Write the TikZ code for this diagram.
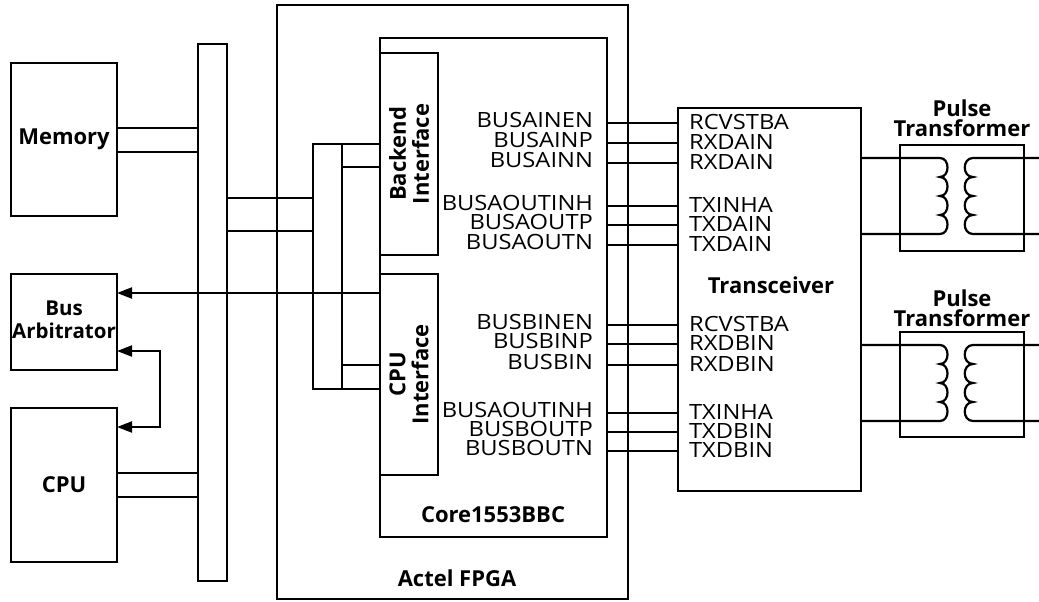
\documentclass[tikz,border=0pt]{standalone}
\usepackage{fontspec}
\setmainfont{Open Sans}
\newfontfamily\sigfont[FakeStretch=1.13]{Open Sans}
\usetikzlibrary{arrows.meta}
\begin{document}
\begin{tikzpicture}[x=1pt,y=-1pt,
  line width=2.2pt,
  box/.style={draw, line width=2.2pt, inner sep=0pt, outer sep=0pt, anchor=north west},
  ttl/.style={font=\fontsize{22}{23}\selectfont\bfseries, align=center, inner sep=0pt},
  ttlp/.style={font=\fontsize{22}{20}\selectfont\bfseries, align=center, inner sep=0pt},
  sig/.style={font=\fontsize{21}{21}\selectfont\sigfont, inner sep=0pt},
  wire/.style={line width=2.2pt},
  tipa/.tip={Triangle[length=15pt,width=11pt]},
  arr/.style={-tipa, line width=2.2pt},
  darr/.style={tipa-tipa, line width=2.2pt},
]
\useasboundingbox (0,0) rectangle (1039,602);

% boxes
\node[box, minimum width=106pt, minimum height=153pt] (mem) at (11,63) {};
\node[box, minimum width=106pt, minimum height=96pt] (arb) at (11,274) {};
\node[box, minimum width=106pt, minimum height=154pt] (cpu) at (11,408) {};
\node[box, minimum width=29pt, minimum height=537pt] (bus) at (198,44) {};
\node[box, minimum width=351pt, minimum height=594pt] (fpga) at (277,5) {};
\node[box, minimum width=227pt, minimum height=499pt] (core) at (380,38) {};
\node[box, minimum width=58pt, minimum height=202pt] (bif) at (380,53) {};
\node[box, minimum width=58pt, minimum height=201pt] (cif) at (380,274) {};
\node[box, minimum width=183pt, minimum height=383pt] (trx) at (678,108) {};
\node[box, minimum width=124pt, minimum height=106pt] (pt1) at (900,145) {};
\node[box, minimum width=124pt, minimum height=105pt] (pt2) at (900,332) {};

% titles
\node[ttl] (memt) at (mem) {Memory};
\node[ttl, font=\fontsize{20.5}{23}\selectfont\bfseries] (arbt) at (64,320) {Bus\\Arbitrator};
\node[ttl] (cput) at (cpu) {CPU};
\node[ttl, rotate=90] (bift) at (bif) {Backend\\Interface};
\node[ttl, rotate=90] (cift) at (cif) {CPU\\Interface};
\node[ttl] (coret) at (493,515) {Core1553BBC};
\node[ttl] (fpgat) at (457,578) {Actel FPGA};
\node[ttl] (trxt) at (771,285) {Transceiver};
\node[ttlp] (pt1t) at (962,118) {Pulse\\Transformer};
\node[ttlp] (pt2t) at (962,308) {Pulse\\Transformer};

% system bus connections
\draw[wire] (mem.east |- 0,128) -- (bus.west |- 0,128);
\draw[wire] (mem.east |- 0,152) -- (bus.west |- 0,152);
\draw[wire] (cpu.east |- 0,473) -- (bus.west |- 0,473);
\draw[wire] (cpu.east |- 0,497) -- (bus.west |- 0,497);

\coordinate (va) at (313,144);
\coordinate (vb) at (342,144);
\coordinate (vend) at (313,389);
\draw[wire] (bus.east |- 0,198) -- (va |- 0,198);
\draw[wire] (bus.east |- 0,231) -- (va |- 0,231);
\draw[wire] (bif.west |- va) -- (va) -- (vend) -- (cif.west |- vend);
\draw[wire] (vb) -- (vb |- vend);
\draw[wire] (vb |- 0,167) -- (bif.west |- 0,167);
\draw[wire] (vb |- 0,365) -- (cif.west |- 0,365);

% arrows
\draw[arr] (cif.west |- 0,293) -- (arb.east |- 0,293);
\coordinate (dc) at (160,351);
\draw[darr] (arb.east |- dc) -- (dc) -- (dc |- 0,427) -- (cpu.east |- 0,427);

% signals
\foreach \y/\l/\r/\n in {123/BUSAINEN/RCVSTBA/a1, 143/BUSAINP/RXDAIN/a2, 163/BUSAINN/RXDAIN/a3,
  206/BUSAOUTINH/TXINHA/a4, 225/BUSAOUTP/TXDAIN/a5, 245/BUSAOUTN/TXDAIN/a6,
  325/BUSBINEN/RCVSTBA/b1, 344/BUSBINP/RXDBIN/b2, 365/BUSBIN/RXDBIN/b3,
  413/BUSAOUTINH/TXINHA/b4, 432/BUSBOUTP/TXDBIN/b5, 451/BUSBOUTN/TXDBIN/b6}{
  \draw[wire] (core.east |- 0,\y) -- (trx.west |- 0,\y);
  \node[sig, anchor=east] (l\n) at (594,\y-3) {\l};
  \node[sig, anchor=west] (r\n) at (688,\y-1) {\r};
}

% transformers
\foreach \t/\b in {158/234, 345/421}{
  \pgfmathsetmacro{\s}{(\b-\t)/4}
  \draw[wire] (trx.east |- 0,\t) -- (940,\t)
    \foreach \k in {0,1,2,3}{ .. controls (950,\t+\k*\s) and (950,\t+\k*\s+\s) .. (940,\t+\k*\s+\s) }
    -- (trx.east |- 0,\b);
  \draw[wire] (1039,\t) -- (973,\t)
    \foreach \k in {0,1,2,3}{ .. controls (962,\t+\k*\s) and (962,\t+\k*\s+\s) .. (973,\t+\k*\s+\s) }
    -- (1039,\b);
}
\end{tikzpicture}
\end{document}
